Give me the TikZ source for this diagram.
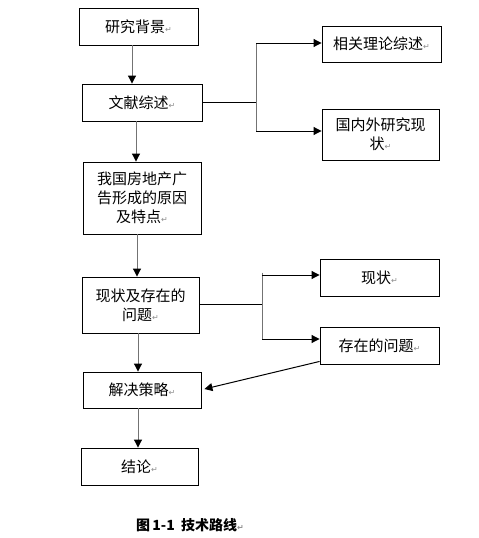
\documentclass[tikz,border=0pt]{standalone}
\usepackage{fontspec}
\usepackage{tikz}
\usetikzlibrary{arrows.meta,calc}
\setmainfont{Liberation Serif}
\newfontfamily\cjk{Noto Sans CJK SC}
\newfontfamily\symfont{DejaVu Sans}
\definecolor{shaftgray}{rgb}{0.45,0.45,0.45}
\definecolor{markgray}{rgb}{0.55,0.55,0.55}
\newcommand{\retmark}{{\symfont\fontsize{8}{9}\selectfont\color{markgray}↵}}

\begin{document}
\begin{tikzpicture}[x=1pt,y=-1pt,
    box/.style={draw,line width=0.9pt,align=center,inner sep=0pt,
      font=\cjk\fontsize{15}{19}\selectfont},
    arr/.style={-{Triangle[length=8pt,width=8pt,color=black]},line width=1pt},
    link/.style={line width=1pt}]
    \useasboundingbox (0,0) rectangle (479,538);
    % Main column
    \node[box,minimum width=119pt,minimum height=37pt] (bg) at (138.5,26.5) {研究背景\retmark};
    \node[box,minimum width=120pt,minimum height=37pt] (lit) at (142,102.5) {文献综述\retmark};
    \node[box,minimum width=118pt,minimum height=72pt] (cause) at (142,198) {我国房地产广\\告形成的原因\\及特点\retmark};
    \node[box,minimum width=117pt,minimum height=56pt] (state) at (140.5,305) {现状及存在的\\问题\retmark};
    \node[box,minimum width=118pt,minimum height=36pt] (fix) at (142,390) {解决策略\retmark};
    \node[box,minimum width=117pt,minimum height=37pt] (end) at (139.5,466.5) {结论\retmark};
    % Side boxes
    \node[box,minimum width=119pt,minimum height=36pt] (theory) at (381.5,44) {相关理论综述\retmark};
    \node[box,minimum width=117pt,minimum height=51pt] (abroad) at (380.5,134.5) {国内外研究现\\状\retmark};
    \node[box,minimum width=119pt,minimum height=37pt] (now) at (379.5,277.5) {现状\retmark};
    \node[box,minimum width=119pt,minimum height=37pt] (prob) at (379.5,345.5) {存在的问题\retmark};
    % Caption
    \node[font=\cjk\bfseries\fontsize{14}{16}\selectfont] (cap) at (190,525) {图\,1-1\ \ 技术路线\retmark};
    % Main arrows
    \draw[arr,shaftgray] ([xshift=-6.5pt]bg.south) -- ([xshift=-6.5pt]bg.south |- lit.north);
    \draw[arr,shaftgray] ([xshift=-6pt]lit.south) -- ([xshift=-6pt]lit.south |- cause.north);
    \draw[arr,shaftgray] ([xshift=-5pt]cause.south) -- ([xshift=-5pt]cause.south |- state.north);
    \draw[arr,shaftgray] ([xshift=-2.5pt]state.south) -- ([xshift=-2.5pt]state.south |- fix.north);
    \draw[arr,shaftgray] ([xshift=-4pt]fix.south) -- ([xshift=-4pt]fix.south |- end.north);
    % Branches
    \coordinate (j1) at (256,0);
    \coordinate (j2) at (262,0);
    \draw[link] (lit.east) -- (lit.east -| j1);
    \draw[link,shaftgray] ([yshift=1pt]j1 |- theory.west) -- ([yshift=3.5pt]j1 |- abroad.west);
    \draw[arr] ([yshift=1pt]j1 |- theory.west) -- ([yshift=1pt]theory.west);
    \draw[arr] ([yshift=3.5pt]j1 |- abroad.west) -- ([yshift=3.5pt]abroad.west);
    \draw[link] ([yshift=1pt]state.east) -- ([yshift=1pt]state.east -| j2);
    \draw[link,shaftgray] ([yshift=5pt]j2 |- now.west) -- ([yshift=6.5pt]j2 |- prob.west);
    \draw[arr] ([yshift=2.5pt]j2 |- now.west) -- ([yshift=2.5pt]now.west);
    \draw[arr] ([yshift=6.5pt]j2 |- prob.west) -- ([yshift=6.5pt]prob.west);
    % Back to the solution
    \draw[arr] ([yshift=3pt]prob.south west) -- ([xshift=3pt,yshift=1pt]fix.east);
  \end{tikzpicture}
\end{document}
